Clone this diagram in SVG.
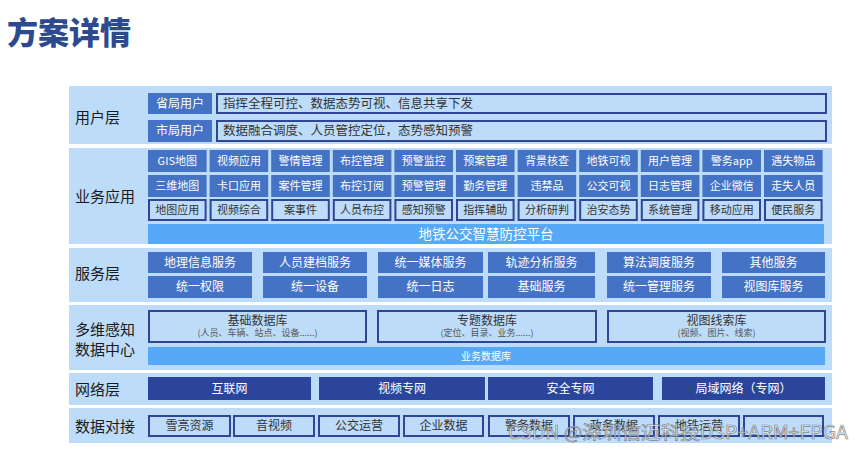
<svg xmlns="http://www.w3.org/2000/svg" width="865" height="451" viewBox="0 0 865 451">
<style>
text{font-family:"Noto Sans CJK SC","Noto Sans",sans-serif;}
.band{fill:#bddcfa;}
.lbl{font-size:15px;fill:#1a1a1a;}
.fb{fill:#4472c4;}
.ob{fill:#bddcfa;stroke:#2f4596;stroke-width:2;}
.nb{fill:#2b459c;}
.wt{fill:#ffffff;text-anchor:middle;}
.dt{fill:#333333;text-anchor:middle;}
.s11{font-size:11px;}
.s12{font-size:12px;}
.sub{font-size:9px;fill:#555555;text-anchor:middle;}
</style>
<rect width="865" height="451" fill="#ffffff"/>
<text x="7" y="44" font-size="31" font-weight="900" fill="#2e4a8f">方案详情</text>

<g id="bands">
<rect class="band" x="69" y="86" width="763" height="58"/>
<rect class="band" x="69" y="148" width="763" height="96"/>
<rect class="band" x="69" y="248" width="763" height="54"/>
<rect class="band" x="69" y="305" width="763" height="65"/>
<rect class="band" x="69" y="373" width="763" height="32"/>
<rect class="band" x="69" y="408" width="763" height="35"/>
</g>

<g id="labels">
<text class="lbl" x="75" y="123">用户层</text>
<text class="lbl" x="75" y="202">业务应用</text>
<text class="lbl" x="75" y="279">服务层</text>
<text class="lbl" x="75" y="335">多维感知</text>
<text class="lbl" x="75" y="355">数据中心</text>
<text class="lbl" x="75" y="395">网络层</text>
<text class="lbl" x="75" y="432">数据对接</text>
</g>

<g id="user-layer">
<rect class="fb" x="148" y="93" width="64" height="21"/>
<text class="wt s12" x="180" y="108">省局用户</text>
<rect class="ob" x="217" y="94" width="609" height="19"/>
<text x="223" y="108" font-size="12.5" fill="#333">指挥全程可控、数据态势可视、信息共享下发</text>
<rect class="fb" x="148" y="120" width="64" height="22"/>
<text class="wt s12" x="180" y="135">市局用户</text>
<rect class="ob" x="217" y="121" width="609" height="20"/>
<text x="223" y="135" font-size="12.5" fill="#333">数据融合调度、人员管控定位，态势感知预警</text>
</g>

<g id="business">
<g class="fb">
<rect x="148" y="150" width="58.6" height="22"/><rect x="209.6" y="150" width="58.6" height="22"/><rect x="271.2" y="150" width="58.6" height="22"/><rect x="332.8" y="150" width="58.6" height="22"/><rect x="394.4" y="150" width="58.6" height="22"/><rect x="456" y="150" width="58.6" height="22"/><rect x="517.6" y="150" width="58.6" height="22"/><rect x="579.2" y="150" width="58.6" height="22"/><rect x="640.8" y="150" width="58.6" height="22"/><rect x="702.4" y="150" width="58.6" height="22"/><rect x="764" y="150" width="58.6" height="22"/>
<rect x="148" y="175" width="58.6" height="22"/><rect x="209.6" y="175" width="58.6" height="22"/><rect x="271.2" y="175" width="58.6" height="22"/><rect x="332.8" y="175" width="58.6" height="22"/><rect x="394.4" y="175" width="58.6" height="22"/><rect x="456" y="175" width="58.6" height="22"/><rect x="517.6" y="175" width="58.6" height="22"/><rect x="579.2" y="175" width="58.6" height="22"/><rect x="640.8" y="175" width="58.6" height="22"/><rect x="702.4" y="175" width="58.6" height="22"/><rect x="764" y="175" width="58.6" height="22"/>
</g>
<g class="ob">
<rect x="149" y="200" width="56.6" height="20"/><rect x="210.6" y="200" width="56.6" height="20"/><rect x="272.2" y="200" width="56.6" height="20"/><rect x="333.8" y="200" width="56.6" height="20"/><rect x="395.4" y="200" width="56.6" height="20"/><rect x="457" y="200" width="56.6" height="20"/><rect x="518.6" y="200" width="56.6" height="20"/><rect x="580.2" y="200" width="56.6" height="20"/><rect x="641.8" y="200" width="56.6" height="20"/><rect x="703.4" y="200" width="56.6" height="20"/><rect x="765" y="200" width="56.6" height="20"/>
</g>
<g class="wt s11">
<text x="177.3" y="165">GIS地图</text><text x="238.9" y="165">视频应用</text><text x="300.5" y="165">警情管理</text><text x="362.1" y="165">布控管理</text><text x="423.7" y="165">预警监控</text><text x="485.3" y="165">预案管理</text><text x="546.9" y="165">背景核查</text><text x="608.5" y="165">地铁可视</text><text x="670.1" y="165">用户管理</text><text x="731.7" y="165">警务app</text><text x="793.3" y="165">遇失物品</text>
<text x="177.3" y="190">三维地图</text><text x="238.9" y="190">卡口应用</text><text x="300.5" y="190">案件管理</text><text x="362.1" y="190">布控订阅</text><text x="423.7" y="190">预警管理</text><text x="485.3" y="190">勤务管理</text><text x="546.9" y="190">违禁品</text><text x="608.5" y="190">公交可视</text><text x="670.1" y="190">日志管理</text><text x="731.7" y="190">企业微信</text><text x="793.3" y="190">走失人员</text>
</g>
<g class="dt s11">
<text x="177.3" y="214">地图应用</text><text x="238.9" y="214">视频综合</text><text x="300.5" y="214">案事件</text><text x="362.1" y="214">人员布控</text><text x="423.7" y="214">感知预警</text><text x="485.3" y="214">指挥辅助</text><text x="546.9" y="214">分析研判</text><text x="608.5" y="214">治安态势</text><text x="670.1" y="214">系统管理</text><text x="731.7" y="214">移动应用</text><text x="793.3" y="214">便民服务</text>
</g>
<rect x="148" y="224" width="676" height="20" fill="#55a9f7"/>
<text class="wt" x="486" y="239" font-size="13.5">地铁公交智慧防控平台</text>
</g>

<g id="service">
<g class="fb">
<rect x="148" y="252" width="104" height="21"/><rect x="263" y="252" width="104" height="21"/><rect x="378" y="252" width="105" height="21"/><rect x="488" y="252" width="107" height="21"/><rect x="607" y="252" width="104" height="21"/><rect x="722" y="252" width="103" height="21"/>
<rect x="148" y="276" width="104" height="22"/><rect x="263" y="276" width="104" height="22"/><rect x="378" y="276" width="105" height="22"/><rect x="488" y="276" width="107" height="22"/><rect x="607" y="276" width="104" height="22"/><rect x="722" y="276" width="103" height="22"/>
</g>
<g class="wt s12">
<text x="200" y="267">地理信息服务</text><text x="315" y="267">人员建档服务</text><text x="430.5" y="267">统一媒体服务</text><text x="541.5" y="267">轨迹分析服务</text><text x="659" y="267">算法调度服务</text><text x="773.5" y="267">其他服务</text>
<text x="200" y="291">统一权限</text><text x="315" y="291">统一设备</text><text x="430.5" y="291">统一日志</text><text x="541.5" y="291">基础服务</text><text x="659" y="291">统一管理服务</text><text x="773.5" y="291">视图库服务</text>
</g>
</g>

<g id="data-center">
<rect class="ob" x="149" y="311" width="217" height="31"/>
<rect class="ob" x="378" y="311" width="218" height="31"/>
<rect class="ob" x="608" y="311" width="217" height="31"/>
<g class="dt s12">
<text x="257.5" y="325">基础数据库</text><text x="487" y="325">专题数据库</text><text x="716.5" y="325">视图线索库</text>
</g>
<text class="sub" x="257.5" y="336">(人员、车辆、站点、设备......)</text>
<text class="sub" x="487" y="336">(定位、目录、业务......)</text>
<text class="sub" x="716.5" y="336">(视频、图片、线索)</text>
<rect x="148" y="347" width="677" height="18" fill="#55a9f7"/>
<text class="wt" x="486" y="360" font-size="10">业务数据库</text>
</g>

<g id="network">
<g class="nb">
<rect x="148" y="377" width="163" height="23"/><rect x="319" y="377" width="166" height="23"/><rect x="488" y="377" width="165" height="23"/><rect x="662" y="377" width="163" height="23"/>
</g>
<g class="wt s12">
<text x="229.5" y="393">互联网</text><text x="402" y="393">视频专网</text><text x="570.5" y="393">安全专网</text><text x="743.5" y="393">局域网络（专网）</text>
</g>
</g>

<g id="data-docking">
<g class="ob">
<rect x="149" y="416" width="81" height="20"/><rect x="234" y="416" width="80" height="20"/><rect x="319" y="416" width="80" height="20"/><rect x="404" y="416" width="79" height="20"/><rect x="489" y="416" width="80" height="20"/><rect x="574" y="416" width="80" height="20"/><rect x="659" y="416" width="80" height="20"/><rect x="744" y="416" width="79" height="20"/>
</g>
<g class="dt s12">
<text x="189.5" y="430">雪亮资源</text><text x="274" y="430">音视频</text><text x="359" y="430">公交运营</text><text x="443.5" y="430">企业数据</text><text x="529" y="430">警务数据</text><text x="614" y="430">政务数据</text><text x="699" y="430">地铁运营</text>
</g>
</g>

<text x="508" y="439" font-family="Liberation Sans, Noto Sans CJK SC, sans-serif" font-size="18" textLength="340" lengthAdjust="spacingAndGlyphs" fill="#ffffff" fill-opacity="0.7" stroke="#666666" stroke-width="0.7" stroke-opacity="0.8">CSDN @深圳信迈科技DSP+ARM+FPGA</text>
</svg>
